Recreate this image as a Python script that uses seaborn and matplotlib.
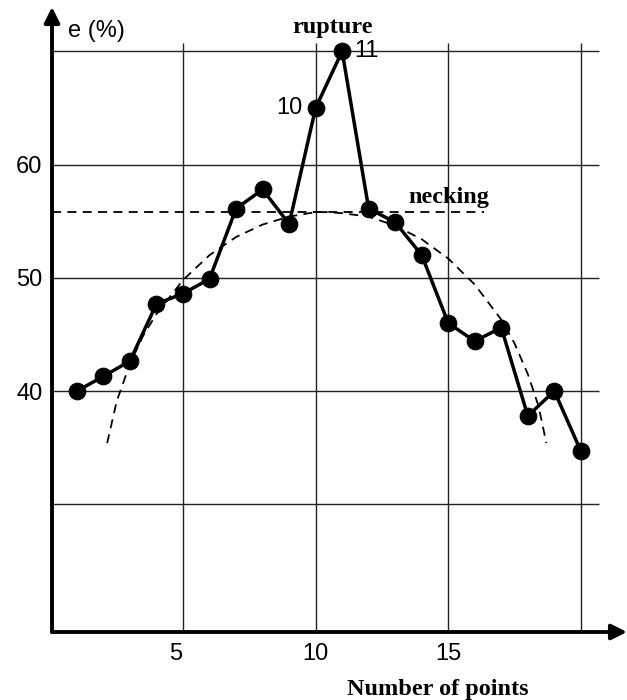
import matplotlib
matplotlib.use("Agg")
import matplotlib.pyplot as plt
import matplotlib.transforms as mtransforms
import seaborn as sns
import pandas as pd

sns.set_style("white")
plt.rcParams["font.family"] = ["Liberation Sans", "DejaVu Sans"]
plt.rcParams["text.color"] = "black"

# ---- data ----
points = list(range(1, 21))
elong = [40.0, 41.3, 42.65, 47.7, 48.6, 49.9, 56.1, 57.8, 54.75, 65.0,
         70.0, 56.1, 54.9, 52.0, 46.0, 44.4, 45.6, 37.8, 40.0, 34.7]

# dashed trend curve
curve_x = [2.14, 2.5, 3, 3.5, 4, 5, 6, 7, 8, 9, 10, 10.42, 11, 12, 13, 14,
           15, 16, 17, 17.5, 18, 18.4, 18.7]
curve_y = [35.4, 39.1, 42.4, 44.9, 46.8, 49.8, 52.0, 53.6, 54.7, 55.4, 55.8,
           55.8, 55.7, 55.4, 54.6, 53.4, 51.7, 49.4, 46.3, 44.2, 41.5, 38.7, 35.4]

necking_level = 55.8
necking_x = [0.06, 16.35]

x_grid = [5, 10, 15, 20]
y_grid = [30, 40, 50, 60, 70]
x_ticks = [5, 10, 15]
y_ticks = [40, 50, 60]

df = pd.DataFrame({"point": points, "e": elong})
dc = pd.DataFrame({"x": curve_x, "y": curve_y})

fig = plt.figure(figsize=(6.27, 7.0), dpi=100)
ax = fig.add_axes([52 / 627, 68 / 700, 575 / 627, 625 / 700])
xmin, xmax = 0.06, 21.74
ymin, ymax = 18.72, 73.91
ax.set_xlim(xmin, xmax)
ax.set_ylim(ymin, ymax)

# grid
ax.hlines(y_grid, xmin, 20.68, colors="#222222", lw=1.0, zorder=1)
ax.vlines(x_grid, ymin, 70.7, colors="#222222", lw=1.0, zorder=1)

# necking level
ax.hlines([necking_level], necking_x[0], necking_x[1], colors="black",
          lw=1.3, linestyles=(0, (5, 3.5)), zorder=2)

# trend curve
sns.lineplot(data=dc, x="x", y="y", ax=ax, color="black", lw=1.3,
             linestyle=(0, (5, 3.5)), sort=False, zorder=2)

# main series
sns.lineplot(data=df, x="point", y="e", ax=ax, color="black", lw=2.5,
             marker="o", markersize=12, markeredgecolor="black",
             markerfacecolor="black", zorder=3)

# axes styling
for s in ["top", "right", "left", "bottom"]:
    ax.spines[s].set_visible(False)
ax.annotate("", xy=(0, 1), xytext=(0, 0), xycoords="axes fraction",
            arrowprops=dict(arrowstyle="-|>,head_length=0.4,head_width=0.2",
                            lw=2.8, color="black", mutation_scale=23,
                            shrinkA=0, shrinkB=0))
ax.annotate("", xy=(1, 0), xytext=(0, 0), xycoords="axes fraction",
            arrowprops=dict(arrowstyle="-|>,head_length=0.4,head_width=0.2",
                            lw=2.8, color="black", mutation_scale=23,
                            shrinkA=0, shrinkB=0))

ax.set_xticks(x_ticks)
ax.set_yticks(y_ticks)
ax.set_xticklabels([str(v) for v in x_ticks])
ax.set_yticklabels([str(v) for v in y_ticks])
ax.tick_params(axis="both", length=0, labelsize=17, colors="black")
ax.tick_params(axis="y", pad=7)
ax.tick_params(axis="x", pad=8)
ax.set_xlabel("")
ax.set_ylabel("")
ax.grid(False)

# the "5" label sits a little left of its grid line in the reference
lab5 = ax.get_xticklabels()[0]
lab5.set_transform(lab5.get_transform() +
                   mtransforms.ScaledTranslation(-7 / 100, 0, fig.dpi_scale_trans))

serif = dict(family=["Liberation Serif", "DejaVu Serif"], weight="bold",
             size=17.5, color="black")
ax.text(0.67, 71.24, "e (%)", fontsize=17, ha="left", va="baseline",
        color="black")
ax.text(10.62, 71.6, "rupture", ha="center", va="baseline", **serif)
ax.text(15.03, 56.6, "necking", ha="center", va="baseline", **serif)
ax.text(14.62, 13.16, "Number of points", ha="center", va="baseline",
        clip_on=False, **serif)

ax.annotate("10", xy=(points[9], elong[9]), xytext=(-9.4, 0),
            textcoords="offset points", ha="right", va="center", fontsize=17,
            color="black")
ax.annotate("11", xy=(points[10], elong[10]), xytext=(8.6, 0),
            textcoords="offset points", ha="left", va="center", fontsize=17,
            color="black")

fig.savefig("out.png", dpi=100)
